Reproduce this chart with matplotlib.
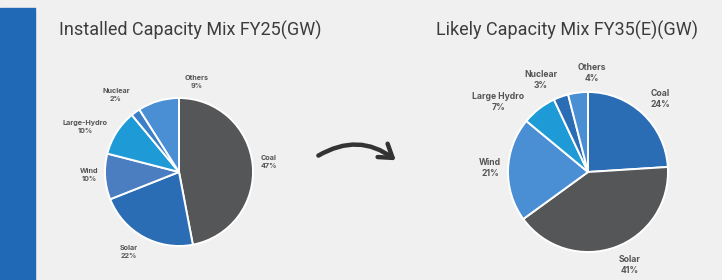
import matplotlib.pyplot as plt
from matplotlib.patches import Rectangle, FancyArrowPatch

# data
labels_fy25 = ["Coal", "Solar", "Wind", "Large-Hydro", "Nuclear", "Others"]
share_fy25 = [47, 22, 10, 10, 2, 9]
labels_fy35 = ["Coal", "Solar", "Wind", "Large Hydro", "Nuclear", "Others"]
share_fy35 = [24, 41, 21, 7, 3, 4]

# styles
colors_fy25 = ["#555657", "#2a6db5", "#4a7ec0", "#1e9bd7", "#3d7fc6", "#4a8fd4"]
colors_fy35 = ["#2a6db5", "#555657", "#4a8fd4", "#1e9bd7", "#2a6db5", "#4a8fd4"]
bg = "#f0f0f0"
txt = "#555555"

W, H = 722, 280
fig = plt.figure(figsize=(W / 100, H / 100), dpi=100, facecolor=bg)
ax = fig.add_axes([0, 0, 1, 1])

# left accent bar
ax.add_patch(Rectangle((0, 0), 35, H - 8, color="#1f69b6", zorder=0))

# label positions (image px, centre of text block)
pos_fy25 = [(269, 162), (129, 252), (89, 175), (85, 127), (116, 95), (197, 82)]
pos_fy35 = [(660, 99), (630, 265), (490, 168), (498, 102), (541, 80), (592, 73)]


def draw_pie(shares, colors, names, pos, center, radius, fs, ls):
    ax.pie(shares, colors=colors, startangle=90, counterclock=False,
           center=(center[0], H - center[1]), radius=radius, frame=True,
           wedgeprops=dict(edgecolor="white", linewidth=1.4))
    for name, v, (x, y) in zip(names, shares, pos):
        ax.text(x, H - y, f"{name}\n{v}%", ha="center", va="center",
                fontsize=fs, color=txt, fontweight="bold", family="Inter",
                linespacing=ls)


draw_pie(share_fy25, colors_fy25, labels_fy25, pos_fy25, (179, 172), 74, 5.2, 1.5)
draw_pie(share_fy35, colors_fy35, labels_fy35, pos_fy35, (588, 172), 80, 6.2, 1.4)
ax.set_xlim(0, W)
ax.set_ylim(0, H)
ax.set_aspect("equal")
ax.axis("off")

ax.text(190, H - 30, "Installed Capacity Mix FY25(GW)", ha="center", va="center",
        fontsize=13, color="#3d3d3d", family="Roboto")
ax.text(567, H - 30, "Likely Capacity Mix FY35(E)(GW)", ha="center", va="center",
        fontsize=13, color="#3d3d3d", family="Roboto")

# curved arrow between the pies
arrow = FancyArrowPatch((316, H - 157), (398, H - 162),
                        connectionstyle="arc3,rad=-0.35",
                        arrowstyle="->,head_length=9,head_width=6",
                        color="#333333", linewidth=3.2, capstyle="round",
                        joinstyle="round")
ax.add_patch(arrow)

fig.savefig("out.png", dpi=100, facecolor=bg)
